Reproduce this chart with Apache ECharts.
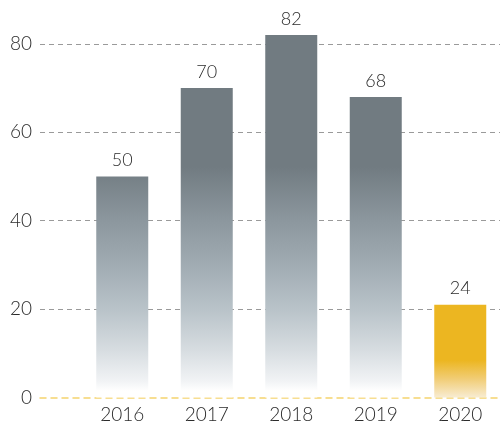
<!DOCTYPE html>
<html>
<head>
<meta charset="utf-8">
<script src="https://cdn.jsdelivr.net/npm/echarts@6/dist/echarts.min.js"></script>
<style>html,body{margin:0;padding:0;background:#fff}#c{width:503px;height:427px}</style>
</head>
<body>
<div id="c"></div>
<script>
const categories = ['2016', '2017', '2018', '2019', '2020'];
const values = [50, 70, 82, 68, 21];
const valueLabels = ['50', '70', '82', '68', '24'];
const yTicks = [0, 20, 40, 60, 80];

const chart = echarts.init(document.getElementById('c'), null, {renderer: 'canvas'});
const font = 'Lato, "Open Sans", sans-serif';

const grayGrad = new echarts.graphic.LinearGradient(0, 0, 0, 397, [
  {offset: 0, color: '#717b81'},
  {offset: 0.42, color: '#717b81'},
  {offset: 0.55, color: '#8b969d'},
  {offset: 0.67, color: '#a1acb3'},
  {offset: 0.78, color: '#b9c3c9'},
  {offset: 0.88, color: '#d6dce0'},
  {offset: 0.96, color: '#f1f3f5'},
  {offset: 0.985, color: '#ffffff'},
  {offset: 1, color: '#ffffff'}
], true);
const yellowGrad = new echarts.graphic.LinearGradient(0, 0, 0, 1, [
  {offset: 0, color: '#ecb621'},
  {offset: 0.6, color: '#ecb621'},
  {offset: 0.8, color: '#f1cd76'},
  {offset: 1, color: '#f8ecd2'}
]);

chart.setOption({
  animation: false,
  grid: [
    {left: 40, right: 3, top: 35, bottom: 29.5},
    {left: 80, right: 0.5, top: 35, bottom: 29.5}
  ],
  xAxis: [
    {
      gridIndex: 0, type: 'category', data: [''],
      axisLine: {show: true, lineStyle: {color: '#f5d46e', type: [6, 5], width: 1.5}},
      axisTick: {show: false}, axisLabel: {show: false}, splitLine: {show: false}
    },
    {
      gridIndex: 1, type: 'category', data: categories,
      axisLine: {show: false}, axisTick: {show: false},
      axisLabel: {margin: 8, fontSize: 19, fontWeight: 300, color: '#2b2b2b', fontFamily: font}
    }
  ],
  yAxis: [
    {
      gridIndex: 0, type: 'value', min: yTicks[0], max: 82, interval: 20,
      axisLine: {show: false}, axisTick: {show: false},
      axisLabel: {margin: 8, fontSize: 19, fontWeight: 300, color: '#2b2b2b', fontFamily: font, showMaxLabel: false},
      splitLine: {show: true, showMinLine: false, showMaxLine: false,
        lineStyle: {color: '#9a9a9a', type: [5, 4], width: 1}}
    },
    {
      gridIndex: 1, type: 'value', min: 0, max: 82, show: false, splitLine: {show: false}
    }
  ],
  series: [{
    type: 'bar', xAxisIndex: 1, yAxisIndex: 1,
    barWidth: 52,
    data: values.map((v, i) => ({
      value: v,
      itemStyle: {color: i === values.length - 1 ? yellowGrad : grayGrad}
    })),
    label: {
      show: true, position: 'top', distance: 7,
      fontSize: 18, fontWeight: 300, color: '#2b2b2b', fontFamily: font,
      formatter: p => valueLabels[p.dataIndex]
    }
  }]
});
</script>
</body>
</html>
